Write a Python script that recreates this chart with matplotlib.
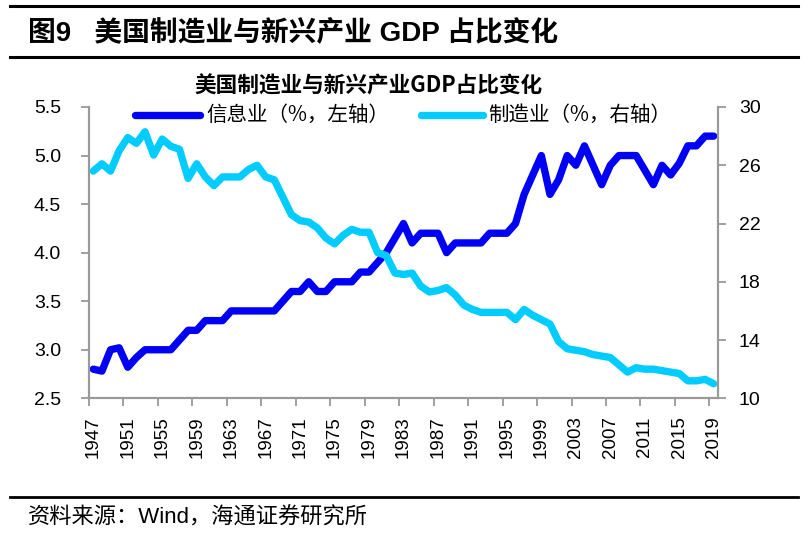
import matplotlib
matplotlib.use("Agg")
import matplotlib.pyplot as plt
from matplotlib.lines import Line2D
import numpy as np

plt.rcParams['font.family'] = ['Liberation Sans', 'Noto Sans CJK SC', 'DejaVu Sans']

years = list(range(1947, 2020))
info = [2.80, 2.78, 3.00, 3.02, 2.82, 2.92, 3.00, 3.00, 3.00, 3.00,
        3.10, 3.20, 3.20, 3.30, 3.30, 3.30, 3.40, 3.40, 3.40, 3.40,
        3.40, 3.40, 3.50, 3.60, 3.60, 3.70, 3.60, 3.60, 3.70, 3.70,
        3.70, 3.80, 3.80, 3.90, 4.00, 4.15, 4.30, 4.10, 4.20, 4.20,
        4.20, 4.00, 4.10, 4.10, 4.10, 4.10, 4.20, 4.20, 4.20, 4.30,
        4.60, 4.80, 5.00, 4.60, 4.75, 5.00, 4.90, 5.10, 4.90, 4.70,
        4.90, 5.00, 5.00, 5.00, 4.85, 4.70, 4.90, 4.80, 4.92, 5.10,
        5.10, 5.20, 5.20]
manu = [25.6, 26.1, 25.6, 27.0, 27.9, 27.5, 28.3, 26.7, 27.8, 27.3,
        27.1, 25.1, 26.1, 25.2, 24.6, 25.2, 25.2, 25.2, 25.7, 26.0,
        25.2, 25.0, 23.8, 22.6, 22.2, 22.1, 21.7, 21.0, 20.6, 21.2,
        21.6, 21.4, 21.4, 20.0, 19.8, 18.6, 18.5, 18.6, 17.7, 17.3,
        17.4, 17.6, 17.1, 16.4, 16.1, 15.9, 15.9, 15.9, 15.9, 15.4,
        16.1, 15.7, 15.4, 15.1, 13.9, 13.4, 13.3, 13.2, 13.0, 12.9,
        12.8, 12.3, 11.8, 12.1, 12.0, 12.0, 11.9, 11.8, 11.7, 11.2,
        11.2, 11.3, 11.0]

fig_title = "图9   美国制造业与新兴产业 GDP 占比变化"
chart_title = "美国制造业与新兴产业GDP占比变化"
label_info = "信息业（%，左轴）"
label_manu = "制造业（%，右轴）"
source = "资料来源：Wind，海通证券研究所"

c_info = "#0000F5"
c_manu = "#00CCFF"
grey = "#999999"
cjk = ['Noto Sans CJK SC', 'DejaVu Sans']
mixed = ['Liberation Sans', 'Noto Sans CJK SC', 'DejaVu Sans']

fig = plt.figure(figsize=(8.11, 5.40), dpi=100)
ax = fig.add_axes([89/811, 1-398.3/540, (718-89)/811, (398.3-107)/540])
ax2 = ax.twinx()

x = np.arange(len(years))
ax.plot(x, info, color=c_info, lw=5.3, solid_capstyle='round', solid_joinstyle='round', zorder=3)
ax2.plot(x, manu, color=c_manu, lw=5.3, solid_capstyle='round', solid_joinstyle='round', zorder=2)

ax.set_xlim(-0.5, len(years) - 0.5)
ax.set_ylim(2.5, 5.5)
ax.set_yticks(np.arange(2.5, 5.51, 0.5))
ax.set_yticklabels([f"{v:.1f}" for v in np.arange(2.5, 5.51, 0.5)])
ax2.set_ylim(10, 30)
ax2.set_yticks([10, 14, 18, 22, 26, 30])

major = x[::4]
ax.set_xticks(major)
ax.set_xticklabels([str(years[i]) for i in major], rotation=90, fontsize=13.5)
ax.set_xticks(np.arange(-0.5, len(years) - 0.5, 4), minor=True)
ax.tick_params(axis='x', which='major', length=0, pad=13)
ax.tick_params(axis='x', which='minor', length=6, color=grey, width=1.3)
ax.tick_params(axis='y', length=6, color=grey, width=1.3, labelsize=14, pad=14)
ax2.tick_params(axis='y', length=6, color=grey, width=1.3, labelsize=14, pad=9)

for a in (ax, ax2):
    a.spines['top'].set_visible(False)
    for s in ('left', 'right', 'bottom'):
        a.spines[s].set_color(grey)
        a.spines[s].set_linewidth(1.5)

# legend (manual, matching layout)
fig.add_artist(Line2D([135/811, 200/811], [1-115/540]*2, color=c_info, lw=5.3, solid_capstyle='round'))
fig.text(206/811, 1-115/540, label_info, fontsize=14.8, family=cjk, va='center', ha='left')
fig.add_artist(Line2D([421/811, 483/811], [1-115/540]*2, color=c_manu, lw=5.3, solid_capstyle='round'))
fig.text(488/811, 1-115/540, label_manu, fontsize=14.8, family=cjk, va='center', ha='left')

fig.text(368/811, 1-86/540, chart_title, fontsize=15.6, family=cjk, fontweight='bold', ha='center', va='center')

# header / footer
fig.add_artist(Line2D([10/811, 798/811], [1-6/540]*2, color='black', lw=2.2))
fig.add_artist(Line2D([10/811, 798/811], [1-57/540]*2, color='black', lw=2.2))
fig.add_artist(Line2D([10/811, 798/811], [1-497/540]*2, color='black', lw=2.0))
fig.text(28/811, 1-33/540, fig_title, fontsize=20, family=mixed, fontweight='bold', ha='left', va='center')
fig.text(28/811, 1-518/540, source, fontsize=16, family=mixed, ha='left', va='center')

fig.savefig("out.png", dpi=100)
